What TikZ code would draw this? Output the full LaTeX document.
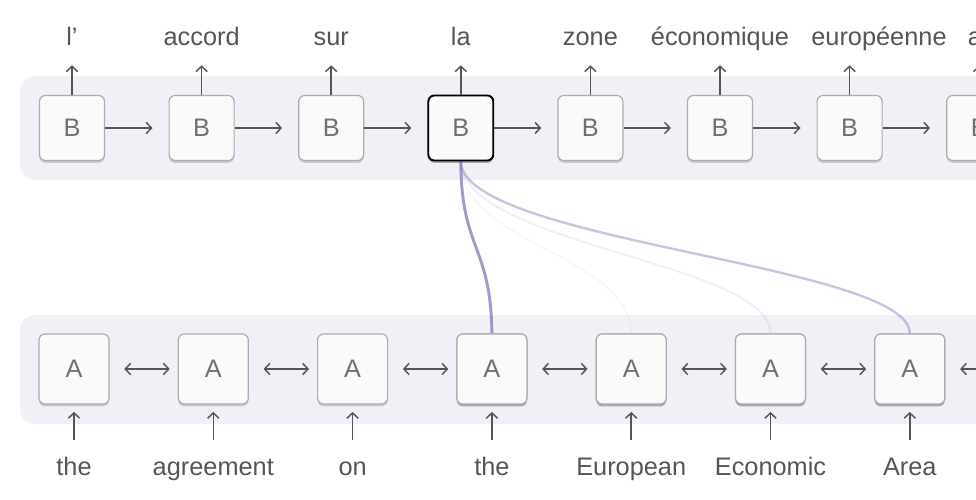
\documentclass[tikz,border=0pt]{standalone}
\usepackage{fontspec}
\setmainfont{Liberation Sans}
\usetikzlibrary{arrows.meta,shadows}

\definecolor{bandgray}{RGB}{241,240,247}
\definecolor{boxline}{RGB}{172,172,176}
\definecolor{boxfill}{RGB}{250,250,250}
\definecolor{inkgray}{RGB}{85,85,88}
\definecolor{lettergray}{RGB}{112,112,116}
\definecolor{attn}{RGB}{150,132,200}

\tikzset{
  cell/.style={draw=boxline, fill=boxfill, line width=0.9pt, rounded corners=4.5pt,
    minimum width=#1, minimum height=#1, inner sep=0pt, text=lettergray,
    drop shadow={shadow xshift=0pt, shadow yshift=-1.8pt, opacity=0.16, fill=black}},
  focus/.style={draw=black, line width=1.4pt},
  word/.style={inner sep=0pt, text=inkgray, text height=14pt, text depth=4pt, anchor=base},
  flow/.style={-{Straight Barb[length=4pt,width=8.5pt]}, line width=1.1pt, draw=inkgray},
  both/.style={{Straight Barb[length=4pt,width=8.5pt]}-{Straight Barb[length=4pt,width=8.5pt]}, line width=1.1pt, draw=inkgray},
  attnline/.style={draw=attn, line width=#1}
}

\begin{document}
\begin{tikzpicture}[x=0.75pt,y=0.75pt,yscale=-1,xscale=1, font=\fontsize{19}{22}\selectfont]
\useasboundingbox (0,0) rectangle (976,500);
\clip (0,0) rectangle (976,500);
%Shape: bands
\fill[bandgray, rounded corners=11pt] (20,76) rectangle (1120,180);
\fill[bandgray, rounded corners=11pt] (20,315) rectangle (1120,424);

% decoder cells
\node[cell=48.75pt] (b1) at (72,128) {B};
\node[cell=48.75pt] (b2) at (201.6,128) {B};
\node[cell=48.75pt] (b3) at (331.2,128) {B};
\node[cell=48.75pt] (b4) at (460.8,128) {};
\node[cell=48.75pt] (b5) at (590.4,128) {B};
\node[cell=48.75pt] (b6) at (720,128) {B};
\node[cell=48.75pt] (b7) at (849.6,128) {B};
\node[cell=48.75pt] (b8) at (979.2,128) {B};

% encoder cells
\node[cell=52.5pt] (a1) at (74,369) {A};
\node[cell=52.5pt] (a2) at (213.3,369) {A};
\node[cell=52.5pt] (a3) at (352.6,369) {A};
\node[cell=52.5pt] (a4) at (491.9,369) {A};
\node[cell=52.5pt] (a5) at (631.2,369) {A};
\node[cell=52.5pt] (a6) at (770.5,369) {A};
\node[cell=52.5pt] (a7) at (909.8,369) {A};
\node[cell=52.5pt] (a8) at (1049.1,369) {A};

%Curve Lines: attention weights
\draw[attnline=1.4pt, draw opacity=0.07] (b4.south) .. controls (461,245) and (631,255) .. (a5.north);
\draw[attnline=1.5pt, draw opacity=0.14] (b4.south) .. controls (461,245) and (770,262) .. (a6.north);
\draw[attnline=1.8pt, draw opacity=0.5] (b4.south) .. controls (461,242) and (910,264) .. (a7.north);
\draw[attnline=2.2pt, draw opacity=0.85] (b4.south) .. controls (461,250) and (491,245) .. (a4.north);

% cells drawn again over the curve ends
\node[cell=48.75pt, focus] (b4) at (460.8,128) {B};
\node[cell=52.5pt] (a4) at (491.9,369) {A};
\node[cell=52.5pt] (a5) at (631.2,369) {A};
\node[cell=52.5pt] (a6) at (770.5,369) {A};
\node[cell=52.5pt] (a7) at (909.8,369) {A};

% Text Node: output words
\node[word] (t1) at (72,45) {l’};
\node[word] (t2) at (201.6,45) {accord};
\node[word] (t3) at (331.2,45) {sur};
\node[word] (t4) at (460.8,45) {la};
\node[word] (t5) at (590.4,45) {zone};
\node[word] (t6) at (720,45) {économique};
\node[word] (t7) at (879,45) {européenne};
\node[word] (t8) at (975,45) {a};

% Text Node: input words
\node[word] (w1) at (74,475) {the};
\node[word] (w2) at (213.3,475) {agreement};
\node[word] (w3) at (352.6,475) {on};
\node[word] (w4) at (491.9,475) {the};
\node[word] (w5) at (631.2,475) {European};
\node[word] (w6) at (770.5,475) {Economic};
\node[word] (w7) at (909.8,475) {Area};

%Straight Lines
\draw[flow, shorten >=11pt] (b1.north) -- (b1.north |- t1.south);
\draw[flow, shorten >=11pt] (b2.north) -- (b2.north |- t2.south);
\draw[flow, shorten >=11pt] (b3.north) -- (b3.north |- t3.south);
\draw[flow, shorten >=11pt] (b4.north) -- (b4.north |- t4.south);
\draw[flow, shorten >=11pt] (b5.north) -- (b5.north |- t5.south);
\draw[flow, shorten >=11pt] (b6.north) -- (b6.north |- t6.south);
\draw[flow, shorten >=11pt] (b7.north) -- (b7.north |- t7.south);
\draw[flow, shorten >=11pt] (b8.north) -- (b8.north |- t8.south);

\draw[flow, shorten >=12pt] (b1.east) -- (b2.west);
\draw[flow, shorten >=12pt] (b2.east) -- (b3.west);
\draw[flow, shorten >=12pt] (b3.east) -- (b4.west);
\draw[flow, shorten >=12pt] (b4.east) -- (b5.west);
\draw[flow, shorten >=12pt] (b5.east) -- (b6.west);
\draw[flow, shorten >=12pt] (b6.east) -- (b7.west);
\draw[flow, shorten >=12pt] (b7.east) -- (b8.west);

\draw[both, shorten <=11pt, shorten >=6pt] (a1.east) -- (a2.west);
\draw[both, shorten <=11pt, shorten >=6pt] (a2.east) -- (a3.west);
\draw[both, shorten <=11pt, shorten >=6pt] (a3.east) -- (a4.west);
\draw[both, shorten <=11pt, shorten >=6pt] (a4.east) -- (a5.west);
\draw[both, shorten <=11pt, shorten >=6pt] (a5.east) -- (a6.west);
\draw[both, shorten <=11pt, shorten >=6pt] (a6.east) -- (a7.west);
\draw[both, shorten <=11pt, shorten >=6pt] (a7.east) -- (a8.west);

\draw[flow, shorten <=12pt, shorten >=5.5pt] (w1.north) -- (a1.south);
\draw[flow, shorten <=12pt, shorten >=5.5pt] (w2.north) -- (a2.south);
\draw[flow, shorten <=12pt, shorten >=5.5pt] (w3.north) -- (a3.south);
\draw[flow, shorten <=12pt, shorten >=5.5pt] (w4.north) -- (a4.south);
\draw[flow, shorten <=12pt, shorten >=5.5pt] (w5.north) -- (a5.south);
\draw[flow, shorten <=12pt, shorten >=5.5pt] (w6.north) -- (a6.south);
\draw[flow, shorten <=12pt, shorten >=5.5pt] (w7.north) -- (a7.south);
\end{tikzpicture}
\end{document}
